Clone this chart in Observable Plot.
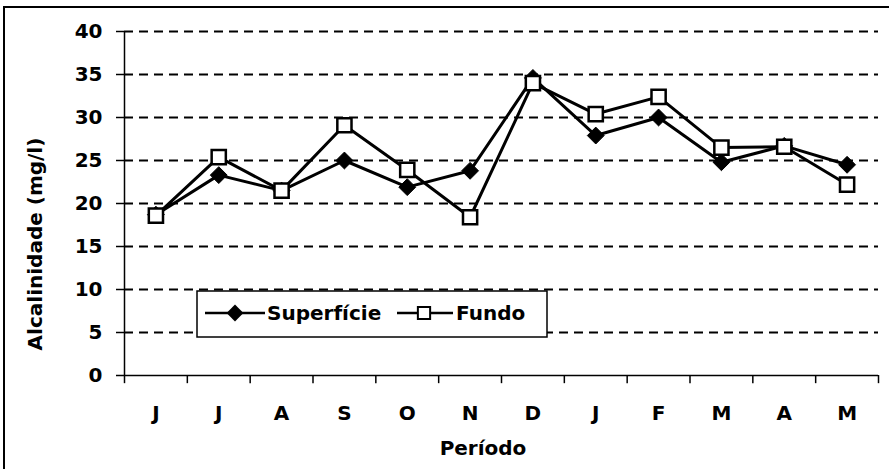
<!DOCTYPE html>
<html>
<head>
<meta charset="utf-8">
<script src="https://cdn.jsdelivr.net/npm/d3@7"></script>
<script src="https://cdn.jsdelivr.net/npm/@observablehq/plot@0.6"></script>
<style>
  html, body { margin: 0; padding: 0; background: #fff; }
  #wrap { position: relative; width: 889px; height: 469px; overflow: hidden; }
  #frame { position: absolute; left: 3px; top: 6px; width: 1000px; height: 1000px;
           border-left: 2px solid #000; border-top: 2px solid #000; pointer-events: none; }
</style>
</head>
<body>
<div id="wrap"><div id="frame"></div></div>
<script>
const months = ["J", "J", "A", "S", "O", "N", "D", "J", "F", "M", "A", "M"];
const superficie = [18.7, 23.3, 21.5, 25.0, 21.9, 23.8, 34.6, 27.9, 30.0, 24.8, 26.7, 24.5];
const fundo = [18.6, 25.4, 21.5, 29.1, 23.9, 18.4, 34.0, 30.4, 32.4, 26.5, 26.6, 22.2];
const yTicks = [0, 5, 10, 15, 20, 25, 30, 35, 40];
const gridValues = [5, 10, 15, 20, 25, 30, 35, 40];
const seriesNames = ["Superfície", "Fundo"];
const yTitle = "Alcalinidade (mg/l)";
const xTitle = "Período";

const idx = d3.range(months.length);
const rowsS = idx.map(i => ({i, v: superficie[i]}));
const rowsF = idx.map(i => ({i, v: fundo[i]}));
const boundaries = d3.range(months.length + 1).map(k => k - 0.5);

const font = "DejaVu Sans";
const chart = Plot.plot({
  width: 889,
  height: 469,
  marginLeft: 124,
  marginRight: 11,
  marginTop: 31,
  marginBottom: 94,
  style: {fontFamily: font, fontWeight: "bold", fontSize: "20px", background: "transparent", overflow: "visible"},
  x: {type: "linear", domain: [-0.5, months.length - 0.5]},
  y: {domain: [0, 40]},
  marks: [
    Plot.ruleY(gridValues, {stroke: "#000", strokeWidth: 2, strokeDasharray: "9,6"}),
    Plot.ruleY([0], {stroke: "#000", strokeWidth: 1.5}),
    Plot.ruleX([-0.5], {y1: 0, y2: 40, stroke: "#000", strokeWidth: 1.5}),
    Plot.ruleX(boundaries, {y1: 0, y2: -0.95, stroke: "#000", strokeWidth: 1.5}),
    Plot.axisY({ticks: yTicks, tickSize: 8, tickPadding: 14, fontSize: 20, label: null, strokeWidth: 1.5}),
    Plot.axisX({ticks: idx, tickSize: 0, tickPadding: 30, fontSize: 20, label: null, tickFormat: i => months[i]}),
    Plot.line(rowsS, {x: "i", y: "v", stroke: "#000", strokeWidth: 3}),
    Plot.dot(rowsS, {x: "i", y: "v", symbol: "diamond2", r: 7.6, fill: "#000", stroke: "#000", strokeWidth: 1}),
    Plot.line(rowsF, {x: "i", y: "v", stroke: "#000", strokeWidth: 3}),
    Plot.dot(rowsF, {x: "i", y: "v", symbol: "square", r: 8.0, fill: "#fff", stroke: "#000", strokeWidth: 2.5})
  ]
});
chart.style.position = "absolute";
chart.style.left = "0px";
chart.style.top = "0px";
const wrap = document.getElementById("wrap");
wrap.appendChild(chart);

// Overlay: axis titles and legend box (the legend sits inside the plot area, as in the reference)
const lg = d3.create("svg").attr("width", 889).attr("height", 469)
  .style("position", "absolute").style("left", "0px").style("top", "0px")
  .style("font-family", font).style("font-weight", "bold");
lg.append("text").attr("transform", "translate(35,244) rotate(-90)").attr("text-anchor", "middle")
  .attr("dy", "0.36em").attr("font-size", 20).text(yTitle);
lg.append("text").attr("x", 483).attr("y", 448).attr("text-anchor", "middle")
  .attr("dy", "0.36em").attr("font-size", 20).text(xTitle);
lg.append("rect").attr("x", 197).attr("y", 291).attr("width", 350).attr("height", 46)
  .attr("fill", "#fff").attr("stroke", "#000").attr("stroke-width", 1.5);
// Superfície
lg.append("line").attr("x1", 205).attr("x2", 265).attr("y1", 313).attr("y2", 313).attr("stroke", "#000").attr("stroke-width", 2.5);
lg.append("path").attr("d", d3.symbol(d3.symbolDiamond2, 180)()).attr("transform", "translate(235,313)").attr("fill", "#000");
lg.append("text").attr("x", 267).attr("y", 313).attr("dy", "0.36em").attr("font-size", 20).text(seriesNames[0]);
// Fundo
lg.append("line").attr("x1", 397).attr("x2", 453).attr("y1", 313).attr("y2", 313).attr("stroke", "#000").attr("stroke-width", 2.5);
lg.append("path").attr("d", d3.symbol(d3.symbolSquare, 150)()).attr("transform", "translate(424,313)").attr("fill", "#fff").attr("stroke", "#000").attr("stroke-width", 2);
lg.append("text").attr("x", 456).attr("y", 313).attr("dy", "0.36em").attr("font-size", 20).text(seriesNames[1]);
wrap.appendChild(lg.node());
</script>
</body>
</html>
